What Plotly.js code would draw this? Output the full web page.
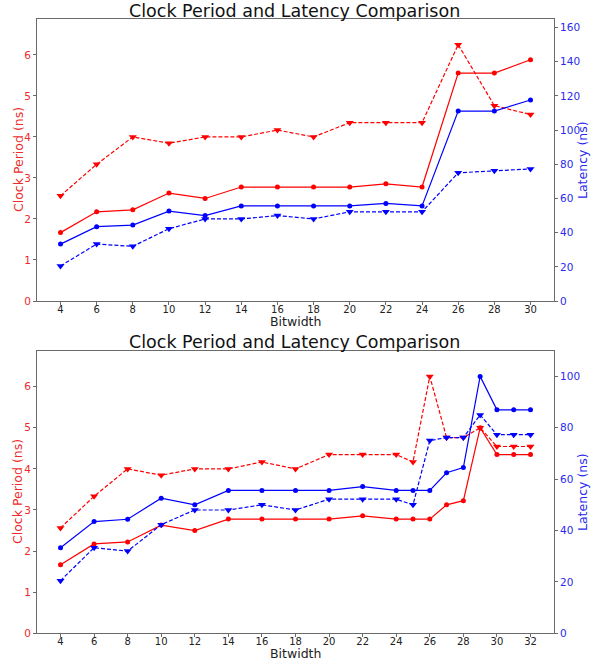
<!DOCTYPE html>
<html><head><meta charset="utf-8">
<script src="https://cdn.plot.ly/plotly-3.0.1.min.js"></script>
<style>html,body{margin:0;padding:0;background:#fff}</style>
</head><body>
<div id="chart" style="width:592px;height:661px"></div>
<script>
// ---- Top chart data ----
const bitsTop = [4, 6, 8, 10, 12, 14, 16, 18, 20, 22, 24, 26, 28, 30];
const clockSolidTop = [1.667, 2.174, 2.222, 2.632, 2.5, 2.778, 2.778, 2.778, 2.778, 2.857, 2.778, 5.556, 5.556, 5.882];
const clockDashTop = [2.564, 3.333, 4.0, 3.846, 4.0, 4.0, 4.167, 4.0, 4.348, 4.348, 4.348, 6.25, 4.762, 4.545];
const latSolidTop = [33.3, 43.5, 44.4, 52.6, 50.0, 55.6, 55.6, 55.6, 55.6, 57.1, 55.6, 111.1, 111.1, 117.6];
const latDashTop = [20.5, 33.3, 32.0, 42.3, 48.0, 48.0, 50.0, 48.0, 52.2, 52.2, 52.2, 75.0, 76.2, 77.3];
const xTicksTop = [4, 6, 8, 10, 12, 14, 16, 18, 20, 22, 24, 26, 28, 30];

// ---- Bottom chart data ----
const bitsBot = [4, 6, 8, 10, 12, 14, 16, 18, 20, 22, 24, 25, 26, 27, 28, 29, 30, 31, 32];
const clockSolidBot = [1.667, 2.174, 2.222, 2.632, 2.5, 2.778, 2.778, 2.778, 2.778, 2.857, 2.778, 2.778, 2.778, 3.125, 3.226, 5.0, 4.348, 4.348, 4.348];
const clockDashBot = [2.564, 3.333, 4.0, 3.846, 4.0, 4.0, 4.167, 4.0, 4.348, 4.348, 4.348, 4.167, 6.25, 4.762, 4.762, 5.0, 4.545, 4.545, 4.545];
const latSolidBot = [33.3, 43.5, 44.4, 52.6, 50.0, 55.6, 55.6, 55.6, 55.6, 57.1, 55.6, 55.6, 55.6, 62.5, 64.5, 100.0, 87.0, 87.0, 87.0];
const latDashBot = [20.5, 33.3, 32.0, 42.3, 48.0, 48.0, 50.0, 48.0, 52.2, 52.2, 52.2, 50.0, 75.0, 76.2, 76.2, 85.0, 77.3, 77.3, 77.3];
const xTicksBot = [4, 6, 8, 10, 12, 14, 16, 18, 20, 22, 24, 26, 28, 30, 32];

const titleText = 'Clock Period and Latency Comparison';
const xLabel = 'Bitwidth';
const yLeftLabel = 'Clock Period (ns)';
const yRightLabel = 'Latency (ns)';

const RED = '#ff0000', BLUE = '#0000ff';
const RED_TXT = '#ee2a2a', BLUE_TXT = '#2a2aee';
const FONT = 'DejaVu Sans, sans-serif';
const SPINE = '#6a6a6a';

function solid(x, y, color, xa, ya) {
  return {x: x, y: y, xaxis: xa, yaxis: ya, type: 'scatter', mode: 'lines+markers',
    line: {color: color, width: 1.2}, marker: {symbol: 'circle', size: 5, color: color},
    showlegend: false, hoverinfo: 'skip'};
}
function dashed(x, y, color, xa, ya) {
  return {x: x, y: y, xaxis: xa, yaxis: ya, type: 'scatter', mode: 'lines+markers',
    line: {color: color, width: 1.2, dash: '4px,2px'}, marker: {symbol: 'triangle-down', size: 7, color: color},
    showlegend: false, hoverinfo: 'skip'};
}

const data = [
  solid(bitsTop, clockSolidTop, RED, 'x', 'y'),
  dashed(bitsTop, clockDashTop, RED, 'x', 'y'),
  solid(bitsTop, latSolidTop, BLUE, 'x', 'y2'),
  dashed(bitsTop, latDashTop, BLUE, 'x', 'y2'),
  solid(bitsBot, clockSolidBot, RED, 'x2', 'y3'),
  dashed(bitsBot, clockDashBot, RED, 'x2', 'y3'),
  solid(bitsBot, latSolidBot, BLUE, 'x2', 'y4'),
  dashed(bitsBot, latDashBot, BLUE, 'x2', 'y4'),
];

const H = 661;
const py = v => (H - v) / H;
const xDom = [37 / 592, 554 / 592];
const topDom = [py(301), py(19)];
const botDom = [py(633.3), py(350.7)];

function xAxis(range, ticks, anchor, so) {
  return {domain: xDom, range: range, anchor: anchor, tickvals: ticks, ticktext: ticks.map(String),
    showgrid: false, zeroline: false, showline: true, mirror: true, linecolor: SPINE, linewidth: 1,
    ticks: 'outside', ticklen: 3, tickwidth: 1, tickcolor: SPINE, ticklabelstandoff: so,
    tickfont: {family: FONT, size: 10, color: '#222'}};
}
function yLeft(range, anchor, dom) {
  return {domain: dom, range: range, anchor: anchor, tickvals: [0, 1, 2, 3, 4, 5, 6],
    showgrid: false, zeroline: false, showline: true, linecolor: SPINE, linewidth: 1,
    ticks: 'outside', ticklen: 3, tickwidth: 1, tickcolor: SPINE,
    tickfont: {family: FONT, size: 10.5, color: RED_TXT}};
}
function yRight(range, overlay, anchor, tv) {
  return {overlaying: overlay, side: 'right', range: range, anchor: anchor, tickvals: tv,
    showgrid: false, zeroline: false, showline: true, linecolor: SPINE, linewidth: 1,
    ticks: 'outside', ticklen: 3, tickwidth: 1, tickcolor: SPINE,
    tickfont: {family: FONT, size: 10.5, color: BLUE_TXT}};
}

const ann = (text, x, y, size, color, angle) => ({text: text, x: x, y: y, xref: 'paper', yref: 'paper',
  xanchor: 'center', yanchor: 'middle', showarrow: false, textangle: angle || 0,
  font: {family: FONT, size: size, color: color}});

const layout = {
  width: 592, height: 661,
  margin: {l: 0, r: 0, t: 0, b: 0},
  paper_bgcolor: '#fff', plot_bgcolor: '#fff',
  xaxis: xAxis([2.7, 31.3], xTicksTop, 'y', -4),
  yaxis: yLeft([0, 6.875], 'x', topDom),
  yaxis2: yRight([0, 165], 'y', 'x', [0, 20, 40, 60, 80, 100, 120, 140, 160]),
  xaxis2: xAxis([2.6, 33.4], xTicksBot, 'y3', -4),
  yaxis3: yLeft([0, 6.875], 'x2', botDom),
  yaxis4: yRight([0, 110], 'y3', 'x2', [0, 20, 40, 60, 80, 100]),
  annotations: [
    ann(titleText, 294 / 592, py(10.5), 17.5, '#111'),
    ann(titleText, 294 / 592, py(342), 17.5, '#111'),
    ann(xLabel, (xDom[0] + xDom[1]) / 2, py(321), 12.5, '#222'),
    ann(xLabel, (xDom[0] + xDom[1]) / 2, py(653), 12.5, '#222'),
    ann(yLeftLabel, 18 / 592, py(160), 12.5, RED_TXT, -90),
    ann(yLeftLabel, 18 / 592, py(492), 12.5, RED_TXT, -90),
    ann(yRightLabel, 582 / 592, py(160), 12.5, BLUE_TXT, -90),
    ann(yRightLabel, 583 / 592, py(492), 12.5, BLUE_TXT, -90),
  ],
};

Plotly.newPlot('chart', data, layout, {staticPlot: true, displayModeBar: false});
</script>
</body></html>
